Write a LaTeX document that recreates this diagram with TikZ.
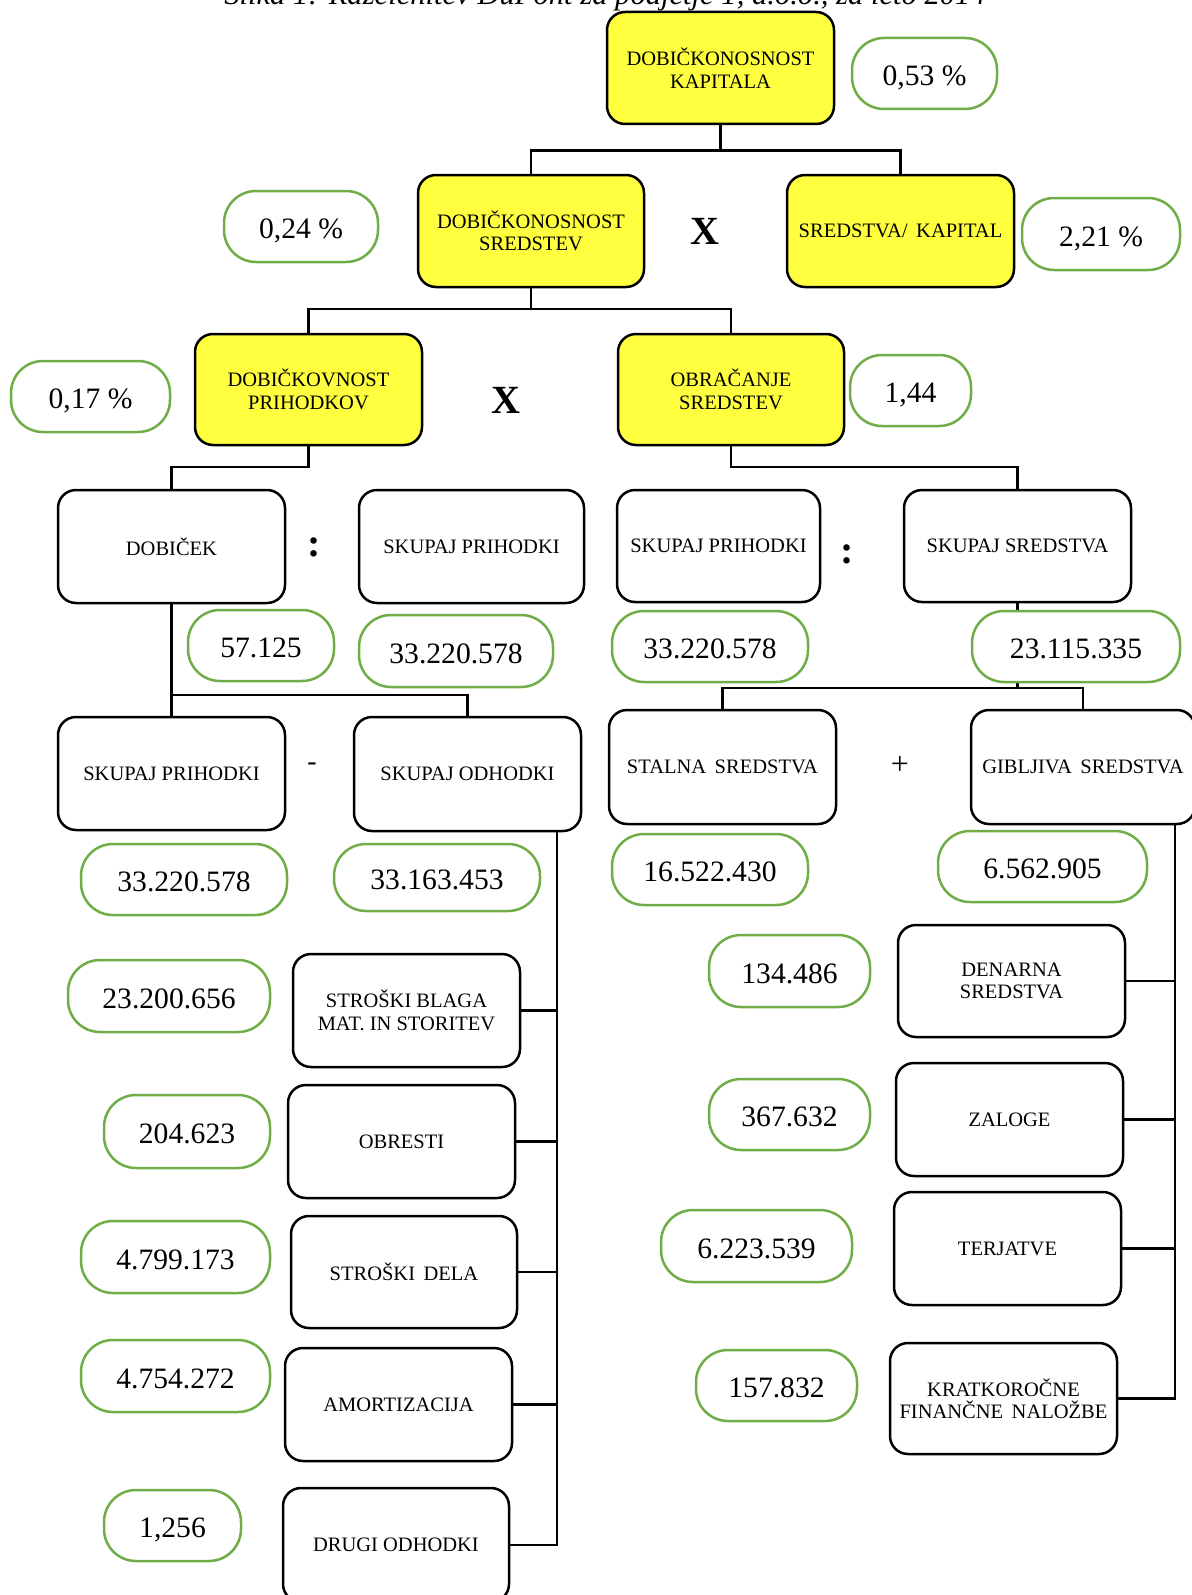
\documentclass[tikz,border=0pt]{standalone}
\usepackage{fontspec}
\setmainfont{Liberation Serif}
\usetikzlibrary{calc}
\definecolor{ygold}{RGB}{255,255,64}
\definecolor{ogreen}{RGB}{112,173,71}
\newcommand\placebox[7]{\node[#6, minimum width={(#4-#2)*0.5pt}, minimum height={(#5-#3)*0.5pt}] (#1) at ({(#2+#4)/2},{(#3+#5)/2}) {#7};}
\tikzset{
  boxbase/.style={draw=black, line width=1.25pt, rounded corners=9pt, inner sep=0pt, align=center, font=\fontsize{10.25}{11.2}\selectfont},
  ybox/.style={boxbase, fill=ygold},
  wbox/.style={boxbase, fill=white},
  oval/.style={draw=ogreen, line width=1.25pt, rounded corners=16pt, fill=white, inner sep=0pt, text height=12.3pt, text depth=0pt, font=\fontsize{14.8}{16}\selectfont},
  conn/.style={line width=1.2pt, draw=black},
  opsym/.style={inner sep=0pt, font=\fontsize{20}{20}\selectfont\bfseries},
}
\begin{document}
\begin{tikzpicture}[x=0.5pt, y=-0.5pt]
\useasboundingbox (0,0) rectangle (1192,1595);
\node[anchor=base, inner sep=0pt, font=\fontsize{15.3}{15.3}\selectfont\itshape] (title) at (605,5) {Slika 1: Razčlenitev DuPont za podjetje 1, d.o.o., za leto 2014};
% yellow boxes
\placebox{k}{607}{12}{834}{124}{ybox}{DOBIČKONOSNOST\\KAPITALA}
\placebox{ds}{418}{175}{644}{287}{ybox}{DOBIČKONOSNOST\\SREDSTEV}
\placebox{sk}{787}{175}{1014}{287}{ybox}{SREDSTVA/\, KAPITAL}
\placebox{dp}{195}{334}{422}{445}{ybox}{DOBIČKOVNOST\\PRIHODKOV}
\placebox{os}{618}{334}{844}{445}{ybox}{OBRAČANJE\\SREDSTEV}
% white boxes
\placebox{dob}{58}{490}{285}{603}{wbox}{DOBIČEK}
\placebox{sp1}{359}{490}{584}{603}{wbox}{SKUPAJ PRIHODKI}
\placebox{sp2}{617}{490}{820}{602}{wbox}{SKUPAJ PRIHODKI}
\placebox{ss}{904}{490}{1131}{602}{wbox}{SKUPAJ SREDSTVA}
\placebox{spr}{58}{717}{285}{830}{wbox}{SKUPAJ PRIHODKI}
\placebox{sod}{354}{717}{581}{831}{wbox}{SKUPAJ ODHODKI}
\placebox{stal}{609}{710}{836}{824}{wbox}{STALNA\, SREDSTVA}
\placebox{gib}{971}{710}{1195}{824}{wbox}{GIBLJIVA\, SREDSTVA}
\placebox{sbm}{293}{954}{520}{1067}{wbox}{STROŠKI BLAGA\\MAT. IN STORITEV}
\placebox{obr}{288}{1085}{515}{1198}{wbox}{OBRESTI}
\placebox{sde}{291}{1216}{517}{1328}{wbox}{STROŠKI\, DELA}
\placebox{amo}{285}{1348}{512}{1461}{wbox}{AMORTIZACIJA}
\placebox{dro}{283}{1488}{509}{1602}{wbox}{DRUGI ODHODKI}
\placebox{den}{898}{925}{1125}{1037}{wbox}{DENARNA\\SREDSTVA}
\placebox{zal}{896}{1063}{1123}{1176}{wbox}{ZALOGE}
\placebox{ter}{894}{1192}{1121}{1305}{wbox}{TERJATVE}
\placebox{kfn}{890}{1343}{1117}{1454}{wbox}{KRATKOROČNE\\FINANČNE\, NALOŽBE}
% connectors
\coordinate (j1) at (720.5,150.5);
\draw[conn] (k.south) -- (j1);
\draw[conn] (ds.north) |- (j1) -| (sk.north);
\coordinate (j2) at (531,309);
\draw[conn] (ds.south) -- (j2);
\draw[conn] (dp.north) |- (j2) -| (os.north);
\draw[conn] (dp.south) -- ++(0,21) -| (dob.north);
\draw[conn] (os.south) -- ++(0,21) -| (ss.north);
\draw[conn] (dob.south) -- (spr.north);
\draw[conn] (dob.south) ++(0,91) -| (sod.north);
\draw[conn] (ss.south) -- ++(0,85) coordinate (j3);
\draw[conn] (stal.north) |- (j3) -| (gib.north);
\coordinate (bl) at (557,831);
\draw[conn] (bl) |- (dro.east);
\foreach \n in {sbm,obr,sde,amo} \draw[conn] (\n.east) -- (\n.east -| bl);
\coordinate (br) at (1175,824);
\draw[conn] (br) |- (kfn.east);
\foreach \n in {den,zal,ter} \draw[conn] (\n.east) -- (\n.east -| br);
% ovals
\placebox{v1}{852}{38}{997}{109}{oval}{0,53 \%}
\placebox{v2}{224}{191}{378}{262}{oval}{0,24 \%}
\placebox{v3}{1022}{198}{1180}{270}{oval}{2,21 \%}
\placebox{v4}{11}{361}{170}{432}{oval}{0,17 \%}
\placebox{v5}{850}{355}{971}{426}{oval}{1,44}
\placebox{v6}{188}{610}{334}{681}{oval}{57.125}
\placebox{v7}{359}{615}{553}{687}{oval}{33.220.578}
\placebox{v8}{612}{611}{808}{682}{oval}{33.220.578}
\placebox{v9}{972}{611}{1180}{682}{oval}{23.115.335}
\placebox{v10}{81}{844}{287}{915}{oval}{33.220.578}
\placebox{v11}{334}{844}{540}{911}{oval}{33.163.453}
\placebox{v12}{612}{834}{808}{905}{oval}{16.522.430}
\placebox{v13}{938}{831}{1147}{902}{oval}{6.562.905}
\placebox{v14}{68}{960}{270}{1032}{oval}{23.200.656}
\placebox{v15}{104}{1095}{270}{1168}{oval}{204.623}
\placebox{v16}{81}{1221}{270}{1293}{oval}{4.799.173}
\placebox{v17}{81}{1340}{270}{1412}{oval}{4.754.272}
\placebox{v18}{104}{1490}{241}{1561}{oval}{1,256}
\placebox{v19}{709}{935}{870}{1007}{oval}{134.486}
\placebox{v20}{709}{1079}{870}{1150}{oval}{367.632}
\placebox{v21}{661}{1210}{852}{1282}{oval}{6.223.539}
\placebox{v22}{696}{1350}{857}{1421}{oval}{157.832}
% operators
\node[opsym] (x1) at (705,231) {X};
\node[opsym] (x2) at (506,400) {X};
\node[opsym] (c1) at (314,547) {:};
\node[opsym] (c2) at (847,554) {:};
\node[inner sep=0pt, font=\fontsize{14}{14}\selectfont] (mi) at (312,767) {-};
\node[inner sep=0pt, font=\fontsize{16}{16}\selectfont] (pl) at (900,765) {+};
\end{tikzpicture}
\end{document}
